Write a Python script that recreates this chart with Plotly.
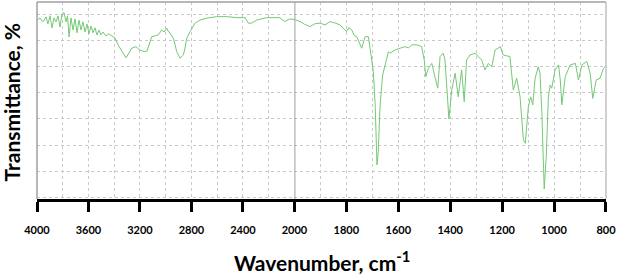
import plotly.graph_objects as go

# ---- data: wavenumber (cm-1) and transmittance (a.u., gridlines every 10) ----
wn_high = [3995, 3977, 3953, 3930, 3915, 3899, 3883, 3868, 3852, 3837, 3821, 3806, 3790,
           3775, 3763, 3751, 3736, 3720, 3705, 3689, 3674, 3658, 3643, 3627, 3612, 3596,
           3580, 3565, 3549, 3534, 3518, 3503, 3487, 3464, 3441, 3417, 3394,
           3371, 3340, 3308, 3285, 3262, 3231, 3200, 3166, 3145, 3109, 3083, 3058,
           3031, 3013, 2992, 2982, 2967, 2941, 2928, 2915, 2889, 2863, 2850, 2837, 2811, 2772,
           2733, 2681, 2604, 2526, 2448, 2383, 2358, 2332, 2293, 2215, 2114, 2075, 2036, 2000]
t_high = [67.9, 68.7, 67.2, 69.1, 66.4, 69.5, 64.9, 68.7, 67.2, 69.5, 65.2, 70.2, 70.8,
          67.2, 69.5, 61.4, 68.7, 64.1, 68.3, 63.0, 67.9, 64.1, 67.2, 63.3, 66.4, 62.6,
          65.6, 63.0, 64.9, 62.2, 64.1, 62.2, 63.3, 61.8, 62.6, 61.8, 61.0,
          58.4, 55.7, 53.4, 55.3, 57.2, 57.7, 56.4, 55.8, 56.0, 61.5, 62.0, 62.2,
          64.1, 63.3, 64.8, 63.7, 62.8, 60.9, 58.7, 55.8, 53.3, 54.5, 57.2, 60.9, 63.4, 66.7,
          67.9, 68.6, 69.2, 69.2, 68.8, 68.8, 66.7, 66.7, 67.9, 68.8, 68.8, 67.3, 68.3, 68.1]

wn_low = [2000, 1978, 1960, 1940, 1920, 1901, 1882, 1863, 1845, 1824, 1810, 1799, 1790, 1779,
          1770, 1760, 1741, 1728, 1715, 1709, 1696, 1689, 1682, 1677, 1670, 1660, 1651, 1638,
          1632, 1613, 1593, 1574, 1560, 1548, 1529, 1510, 1500, 1494, 1484, 1471, 1459, 1448,
          1439, 1427, 1420, 1414, 1405, 1394, 1381, 1369, 1356, 1346, 1337, 1324, 1304, 1292,
          1279, 1266, 1253, 1240, 1227, 1207, 1196, 1170, 1157, 1144, 1131, 1118, 1111, 1099,
          1090, 1082, 1073, 1061, 1054, 1047, 1038, 1030, 1022, 1015, 1009, 996, 983, 976,
          970, 957, 938, 918, 906, 893, 874, 861, 851, 838, 823, 810, 800]
t_low = [68.1, 67.3, 66.2, 65.4, 66.5, 66.7, 66.0, 67.3, 66.8, 66.0, 64.5, 63.5, 65.0, 64.1,
         62.0, 61.5, 57.1, 61.5, 61.5, 57.1, 48.1, 35.4, 12.4, 17.5, 35.4, 46.9, 50.7, 55.8,
         55.2, 56.4, 57.1, 57.7, 57.2, 58.4, 58.4, 57.7, 52.6, 46.2, 49.4, 51.3, 46.2, 41.8,
         53.9, 55.2, 52.6, 42.4, 30.0, 41.1, 47.5, 38.5, 48.8, 36.6, 52.6, 54.5, 55.2, 53.9,
         52.6, 48.8, 51.3, 50.0, 56.4, 57.7, 54.5, 53.9, 41.1, 45.6, 38.5, 22.0, 20.7, 34.7,
         38.5, 35.4, 45.6, 50.0, 47.5, 32.2, 3.2, 15.6, 38.5, 43.0, 41.8, 48.8, 50.7, 44.9,
         35.4, 46.2, 50.7, 51.3, 44.9, 50.7, 52.0, 47.5, 37.9, 44.9, 45.6, 49.4, 50.3]

ticks_high = [4000, 3600, 3200, 2800, 2400]
labels_high = ["4000", "3600", "3200", "2800", "2400"]
ticks_low = [2000, 1800, 1600, 1400, 1200, 1000, 800]
labels_low = ["2000", "1800", "1600", "1400", "1200", "1000", "800"]

line_color = "#74c874"
grid_color = "#c9c9c9"
split = 0.4524  # fraction of plot width for 4000-2000 segment

fig = go.Figure()
fig.add_trace(go.Scatter(x=wn_high, y=t_high, mode="lines", xaxis="x", yaxis="y",
                         line=dict(color=line_color, width=1), showlegend=False))
fig.add_trace(go.Scatter(x=wn_low, y=t_low, mode="lines", xaxis="x2", yaxis="y",
                         line=dict(color=line_color, width=1), showlegend=False))

tickfont = dict(family="Lato", size=11, color="black", weight="bold")
common_x = dict(showline=True, linecolor="black", linewidth=3, ticks="outside",
                ticklen=10, tickwidth=3, tickcolor="black", tickfont=tickfont,
                showgrid=True, gridcolor=grid_color, griddash="dot", gridwidth=1,
                zeroline=False, ticklabelstandoff=9, tickmode="array")

fig.update_layout(
    width=622, height=277,
    margin=dict(l=37, r=16, t=2, b=78),
    paper_bgcolor="white", plot_bgcolor="white",
    xaxis=dict(domain=[0, split], range=[4000, 2000],
               tickvals=ticks_high, ticktext=labels_high,
               minor=dict(dtick=200, tick0=0, showgrid=True, gridcolor=grid_color, griddash="dot"),
               anchor="y", **common_x),
    xaxis2=dict(domain=[split, 1], range=[2000, 800],
                tickvals=ticks_low, ticktext=labels_low,
                minor=dict(dtick=100, tick0=0, showgrid=True, gridcolor=grid_color, griddash="dot"),
                anchor="y", **common_x),
    yaxis=dict(range=[-0.65, 74.8], tick0=0, dtick=10, showticklabels=False, ticks="",
               showgrid=True, gridcolor=grid_color, griddash="dot", zeroline=False,
               showline=False),
    shapes=[
        dict(type="line", xref="paper", yref="paper", x0=0, x1=0, y0=0, y1=1,
             line=dict(color="#a0a0a0", width=1.5)),
        dict(type="line", xref="paper", yref="paper", x0=0, x1=1, y0=1, y1=1,
             line=dict(color="#a0a0a0", width=1.5)),
        dict(type="line", xref="paper", yref="paper", x0=1, x1=1, y0=0, y1=1,
             line=dict(color="#c0c0c0", width=1.5)),
        dict(type="line", xref="x2", yref="paper", x0=2000, x1=2000, y0=0, y1=1,
             line=dict(color="#a0a0a0", width=2)),
    ],
    annotations=[
        dict(text="Wavenumber, cm<sup>-1</sup>", xref="paper", yref="paper", x=0.5, y=-0.315,
             xanchor="center", yanchor="middle", showarrow=False,
             font=dict(family="Lato", size=21, color="black", weight="bold")),
        dict(text="Transmittance, %", xref="paper", yref="paper", x=-0.044, y=0.49,
             xanchor="center", yanchor="middle", textangle=-90, showarrow=False,
             font=dict(family="Lato", size=21, color="black", weight="bold")),
    ],
)

fig.write_html("out.html")
